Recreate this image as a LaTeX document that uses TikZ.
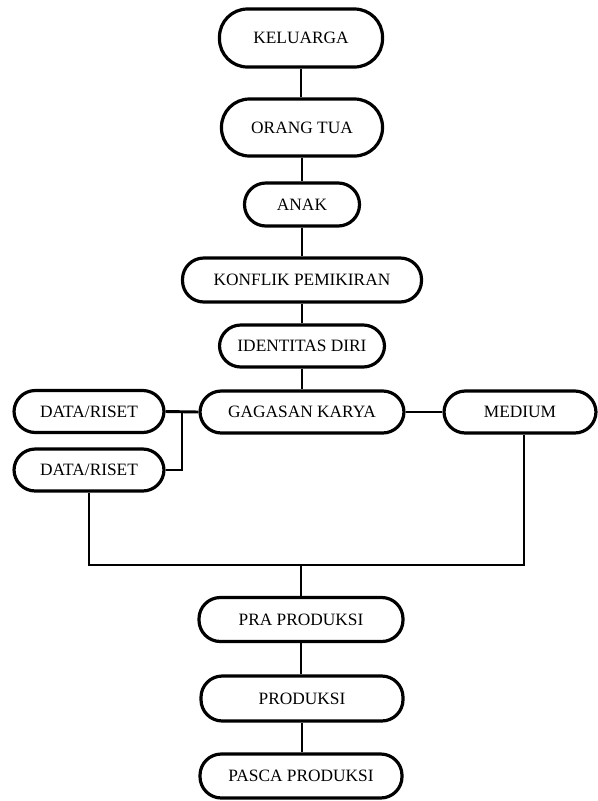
\documentclass[tikz,border=0pt]{standalone}
\usepackage{fontspec}
\setmainfont{Liberation Serif}
\usetikzlibrary{calc}
\begin{document}
\begin{tikzpicture}[x=0.75pt,y=-0.75pt,
  pill/.style={draw=black,line width=2.4pt,fill=white,rounded corners=16pt,
    inner sep=0pt,font=\fontsize{13}{15}\selectfont,align=center},
  link/.style={draw=black,line width=2.2pt}]
\useasboundingbox (0,0) rectangle (598,801);
% nodes
\node[pill,minimum width=163*0.75pt,minimum height=58*0.75pt,rounded corners=21pt] (kel) at (301,38) {KELUARGA};
\node[pill,minimum width=161*0.75pt,minimum height=57*0.75pt,rounded corners=21pt] (ort) at (302,127.5) {ORANG TUA};
\node[pill,minimum width=115*0.75pt,minimum height=43*0.75pt] (anak) at (302,204.5) {ANAK};
\node[pill,minimum width=239*0.75pt,minimum height=44*0.75pt] (konf) at (302,280) {KONFLIK PEMIKIRAN};
\node[pill,minimum width=165*0.75pt,minimum height=42*0.75pt] (iden) at (302,346) {IDENTITAS DIRI};
\node[pill,minimum width=204*0.75pt,minimum height=42*0.75pt] (gag) at (302,412) {GAGASAN KARYA};
\node[pill,minimum width=150*0.75pt,minimum height=42*0.75pt] (data1) at (89,411.5) {DATA/RISET};
\node[pill,minimum width=150*0.75pt,minimum height=42*0.75pt] (data2) at (89,470) {DATA/RISET};
\node[pill,minimum width=152*0.75pt,minimum height=42*0.75pt] (med) at (520,412) {MEDIUM};
\node[pill,minimum width=204*0.75pt,minimum height=44*0.75pt] (pra) at (301,619.5) {PRA PRODUKSI};
\node[pill,minimum width=202*0.75pt,minimum height=45*0.75pt] (prod) at (302,698.5) {PRODUKSI};
\node[pill,minimum width=202*0.75pt,minimum height=44*0.75pt] (pasca) at (301,776) {PASCA PRODUKSI};
% connectors
\coordinate (v) at ($(data1.east)!0.5!(gag.west)$);
\coordinate (j) at (301,565);
\draw[link] (kel.south) -- (kel.south |- ort.north);
\draw[link] (ort.south) -- (ort.south |- anak.north);
\draw[link] (anak.south) -- (anak.south |- konf.north);
\draw[link] (konf.south) -- (konf.south |- iden.north);
\draw[link] (iden.south) -- (iden.south |- gag.north);
\draw[link] (data1.east) -- (gag.west);
\draw[link] (gag.east) -- (med.west);
\draw[link] (data2.east) -| (v);
\draw[link] (data2.south) |- (j) -| ([xshift=3pt]med.south);
\draw[link] (j) -- (j |- pra.north);
\draw[link] (pra.south) -- (pra.south |- prod.north);
\draw[link] (prod.south) -- (prod.south |- pasca.north);
\end{tikzpicture}
\end{document}
